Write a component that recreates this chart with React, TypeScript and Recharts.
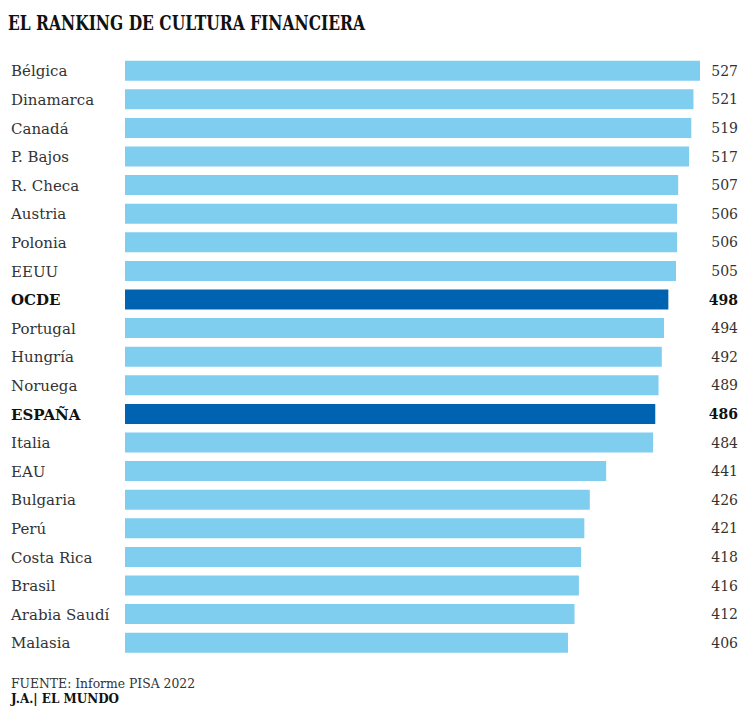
import React from "react";
import { BarChart, Bar, XAxis, YAxis, Cell, LabelList } from "recharts";

const countries = [
  "Bélgica", "Dinamarca", "Canadá", "P. Bajos", "R. Checa", "Austria", "Polonia", "EEUU",
  "OCDE", "Portugal", "Hungría", "Noruega", "ESPAÑA", "Italia", "EAU", "Bulgaria", "Perú",
  "Costa Rica", "Brasil", "Arabia Saudí", "Malasia",
];
const scores = [527, 521, 519, 517, 507, 506, 506, 505, 498, 494, 492, 489, 486, 484, 441, 426, 421, 418, 416, 412, 406];
const highlighted = ["OCDE", "ESPAÑA"];

const title = "EL RANKING DE CULTURA FINANCIERA";
const source = "FUENTE: Informe PISA 2022";
const credit = "J.A.| EL MUNDO";

const LIGHT = "#80CEEF";
const DARK = "#0063B2";
const FONT = "'DejaVu Serif', serif";

const data = countries.map((name, i) => ({ name, value: scores[i], hl: highlighted.includes(name) }));

const CategoryTick = (props: any) => {
  const { y, payload } = props;
  const bold = highlighted.includes(payload.value);
  return (
    <text x={11} y={y} dy="0.36em" textAnchor="start" fontFamily={FONT} fontSize={15}
      fontWeight={bold ? 700 : 400} fill={bold ? "#111" : "#333"}>
      {payload.value}
    </text>
  );
};

const ValueLabel = (props: any) => {
  const { y, height, value, index } = props;
  const bold = data[index]?.hl;
  return (
    <text x={738} y={y + height / 2} dy="0.36em" textAnchor="end" fontFamily={FONT} fontSize={14}
      fontWeight={bold ? 700 : 400} fill={bold ? "#111" : "#333"}>
      {value}
    </text>
  );
};

export default function App() {
  return (
    <div style={{ position: "absolute", left: 0, top: 0, width: 750, height: 715, background: "#fff" }}>
      <svg width={750} height={715} style={{ position: "absolute", left: 0, top: 0 }}>
        <text x={8} y={30} fontFamily={FONT} fontWeight={700} fontSize={20} fill="#111"
          textLength={357} lengthAdjust="spacingAndGlyphs">{title}</text>
        <text x={11} y={688} fontFamily={FONT} fontSize={13.5} fill="#333"
          textLength={184} lengthAdjust="spacingAndGlyphs">{source}</text>
        <text x={11} y={703} fontFamily={FONT} fontWeight={700} fontSize={13.5} fill="#111"
          textLength={108} lengthAdjust="spacingAndGlyphs">{credit}</text>
      </svg>
      <div style={{ position: "absolute", left: 0, top: 0 }}>
        <BarChart width={750} height={715} data={data} layout="vertical"
          margin={{ top: 56.7, right: 50, bottom: 57.7, left: 0 }}>
          <XAxis type="number" domain={[0, 527]} hide />
          <YAxis type="category" dataKey="name" width={125} axisLine={false} tickLine={false}
            tick={<CategoryTick />} interval={0} />
          <Bar dataKey="value" barSize={20} isAnimationActive={false}>
            {data.map((d, i) => (
              <Cell key={i} fill={d.hl ? DARK : LIGHT} />
            ))}
            <LabelList dataKey="value" content={<ValueLabel />} />
          </Bar>
        </BarChart>
      </div>
    </div>
  );
}
